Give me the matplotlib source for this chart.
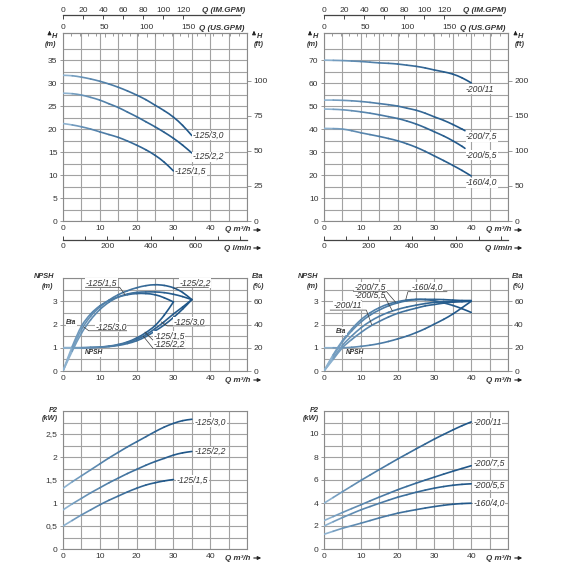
import numpy as np
import matplotlib
matplotlib.use('Agg')
import matplotlib.pyplot as plt
from matplotlib.path import Path
from matplotlib.patches import PathPatch, FancyArrowPatch
from matplotlib.colors import to_rgb

plt.rcParams['font.family'] = ['Liberation Sans Narrow', 'Liberation Sans', 'DejaVu Sans']

# ---------------- data ----------------
Q30 = [0, 2.5, 5, 7.5, 10, 12.5, 15, 17.5, 20, 22.5, 25, 27.5, 30]
Q35 = [0, 2.5, 5, 7.5, 10, 12.5, 15, 17.5, 20, 22.5, 25, 27.5, 30, 32.5, 35]
Q40 = [0, 2.5, 5, 7.5, 10, 12.5, 15, 17.5, 20, 22.5, 25, 27.5, 30, 32.5, 35, 37.5, 40]
Q38 = [0, 2.5, 5, 7.5, 10, 12.5, 15, 17.5, 20, 22.5, 25, 27.5, 30, 32.5, 35, 37.5, 38.3]

# Head (m) - series 125
H_125_30 = [31.7, 31.6, 31.3, 30.9, 30.4, 29.8, 29.1, 28.3, 27.4, 26.4, 25.2, 24.0, 22.6, 20.8, 18.6]
H_125_22 = [27.8, 27.7, 27.4, 26.9, 26.3, 25.5, 24.7, 23.7, 22.7, 21.6, 20.5, 19.3, 18.0, 16.5, 14.8]
H_125_15 = [21.2, 20.9, 20.5, 20.0, 19.4, 18.8, 18.2, 17.4, 16.5, 15.5, 14.3, 12.8, 10.9]
# Head (m) - series 160/200
H_200_11 = [70.0, 69.9, 69.8, 69.6, 69.4, 69.1, 68.8, 68.6, 68.3, 67.8, 67.3, 66.6, 65.7, 64.9, 63.9, 62.3, 60.1]
H_200_75 = [52.6, 52.6, 52.5, 52.3, 52.0, 51.6, 51.1, 50.6, 50.0, 49.1, 48.2, 46.9, 45.3, 43.8, 42.0, 40.0, 39.3]
H_200_55 = [48.7, 48.6, 48.4, 48.0, 47.5, 46.9, 46.2, 45.4, 44.6, 43.5, 42.2, 40.6, 38.8, 37.0, 34.9, 32.5, 31.6]
H_160_40 = [40.3, 40.2, 40.0, 39.3, 38.4, 37.6, 36.8, 35.9, 34.9, 33.6, 32.1, 30.3, 28.3, 26.3, 24.2, 22.0, 19.6]

# Efficiency (in NPSH-axis units: 1 m = 20 %) and NPSH (m) - series 125
ETA_125_15 = [0, 1.05, 1.92, 2.45, 2.8, 3.03, 3.18, 3.28, 3.33, 3.33, 3.28, 3.15, 2.97]
ETA_125_22 = [0, 0.95, 1.78, 2.35, 2.75, 3.05, 3.28, 3.45, 3.58, 3.67, 3.71, 3.68, 3.58, 3.38, 3.07]
ETA_125_30 = [0, 0.85, 1.62, 2.2, 2.64, 2.96, 3.18, 3.31, 3.38, 3.4, 3.4, 3.37, 3.3, 3.2, 3.07]
NPSH_125_15 = [1.0, 1.0, 1.0, 1.01, 1.03, 1.07, 1.14, 1.25, 1.42, 1.65, 1.95, 2.4, 2.97]
NPSH_125_22 = [1.0, 1.0, 1.0, 1.01, 1.02, 1.05, 1.1, 1.18, 1.3, 1.48, 1.72, 1.98, 2.3, 2.66, 3.07]
NPSH_125_30 = [1.0, 1.0, 1.0, 1.01, 1.03, 1.06, 1.12, 1.22, 1.36, 1.56, 1.82, 2.12, 2.45, 2.75, 3.07]
# Efficiency / NPSH - series 160/200
ETA_160_40 = [0, 0.7, 1.3, 1.8, 2.2, 2.5, 2.72, 2.88, 2.98, 3.05, 3.08, 3.07, 3.02, 2.93, 2.82, 2.68, 2.52]
ETA_200_75 = [0, 0.65, 1.25, 1.72, 2.1, 2.4, 2.62, 2.8, 2.93, 3.02, 3.07, 3.08, 3.08, 3.07, 3.05, 3.03, 3.02]
ETA_200_55 = [0, 0.55, 1.1, 1.5, 1.85, 2.13, 2.35, 2.52, 2.65, 2.75, 2.83, 2.9, 2.95, 2.98, 3.0, 3.02, 3.03]
ETA_200_11 = [0, 0.5, 1.0, 1.35, 1.65, 1.92, 2.13, 2.32, 2.48, 2.6, 2.7, 2.8, 2.86, 2.92, 2.96, 2.98, 3.0]
NPSH_200 = [1.0, 1.0, 1.0, 1.02, 1.06, 1.11, 1.18, 1.27, 1.38, 1.5, 1.65, 1.82, 2.02, 2.22, 2.45, 2.72, 3.0]

# Power P2 (kW)
P2_125_30 = [1.32, 1.46, 1.59, 1.72, 1.85, 1.98, 2.1, 2.22, 2.33, 2.44, 2.55, 2.65, 2.73, 2.79, 2.82]
P2_125_22 = [0.85, 0.98, 1.1, 1.22, 1.33, 1.44, 1.54, 1.64, 1.73, 1.82, 1.9, 1.97, 2.04, 2.09, 2.12]
P2_125_15 = [0.5, 0.62, 0.74, 0.85, 0.96, 1.06, 1.15, 1.24, 1.32, 1.39, 1.44, 1.48, 1.51]
P2_200_11 = [3.98, 4.48, 4.98, 5.47, 5.96, 6.43, 6.9, 7.36, 7.82, 8.26, 8.7, 9.13, 9.56, 9.96, 10.35, 10.72, 11.05]
P2_200_75 = [2.47, 2.82, 3.17, 3.51, 3.84, 4.18, 4.51, 4.83, 5.15, 5.44, 5.72, 5.99, 6.25, 6.51, 6.76, 7.0, 7.24]
P2_200_55 = [2.0, 2.37, 2.73, 3.07, 3.4, 3.69, 3.97, 4.24, 4.5, 4.72, 4.93, 5.12, 5.29, 5.43, 5.54, 5.62, 5.67]
P2_160_40 = [1.28, 1.54, 1.8, 2.02, 2.24, 2.47, 2.7, 2.91, 3.11, 3.27, 3.42, 3.56, 3.69, 3.8, 3.89, 3.95, 3.98]

# ---------------- figure ----------------
W = 570
fig = plt.figure(figsize=(5.7, 5.7), dpi=100)
fig.patch.set_facecolor('white')

GC = '#a2a2a2'
SC = '#8a8a8a'
TC = '#333333'
TS = 6.1
LS = 6.2
US = 5.3
C0 = np.array(to_rgb('#8db2d0'))
C1 = np.array(to_rgb('#1f5688'))


def make_ax(l, t, w, h):
    return fig.add_axes([l / W, 1 - (t + h) / W, w / W, h / W])


def ftxt(x, y, s, **kw):
    kw.setdefault('ha', 'center')
    kw.setdefault('va', 'center')
    kw.setdefault('fontsize', 5.8)
    kw.setdefault('color', TC)
    fig.text(x / W, 1 - y / W, s, **kw)


def farrow(x0, y0, x1, y1):
    fig.add_artist(FancyArrowPatch(
        (x0 / W, 1 - y0 / W), (x1 / W, 1 - y1 / W), transform=fig.transFigure,
        arrowstyle='-|>', mutation_scale=5, lw=0.8, color='#222222'))


def curve(ax, x, y, lw=1.2):
    """Draw the measured points joined by smooth Bezier segments, coloured light -> dark."""
    p = np.column_stack([np.asarray(x, float), np.asarray(y, float)])
    n = len(p)
    ext = np.vstack([p[0] - (p[1] - p[0]), p, p[-1] + (p[-1] - p[-2])])
    for i in range(n - 1):
        a, b, c, d = ext[i], ext[i + 1], ext[i + 2], ext[i + 3]
        c1 = b + (c - a) / 6.0
        c2 = c - (d - b) / 6.0
        t = (i / max(n - 2, 1)) ** 0.55
        col = tuple(C0 + (C1 - C0) * t)
        path = Path([b, c1, c2, c], [Path.MOVETO, Path.CURVE4, Path.CURVE4, Path.CURVE4])
        ax.add_patch(PathPatch(path, facecolor='none', edgecolor=col, lw=lw,
                               capstyle='round', joinstyle='round', zorder=3))


def base(ax, ymax, gstep, gtop, yticks, ylabels=None):
    ax.set_xlim(0, 50)
    ax.set_ylim(0, ymax)
    for xv in np.arange(0, 51, 5):
        ax.axvline(xv, color=GC, lw=0.8, zorder=0)
    for yv in np.arange(0, gtop + 1e-9, gstep):
        ax.axhline(yv, color=GC, lw=0.8, zorder=0)
    ax.set_xticks([0, 10, 20, 30, 40])
    ax.set_yticks(yticks)
    if ylabels is not None:
        ax.set_yticklabels(ylabels)
    ax.tick_params(axis='x', length=0, pad=3.0, labelsize=TS, colors=TC)
    ax.tick_params(axis='y', length=2.5, width=0.6, pad=1.5, labelsize=TS, colors=TC)
    ax.tick_params(axis='y', color=SC)
    for s in ax.spines.values():
        s.set_color(SC)
        s.set_linewidth(0.8)


def right_axis(ax, ymax, ticks):
    tw = ax.twinx()
    tw.set_ylim(0, ymax)
    tw.set_yticks(ticks)
    tw.tick_params(axis='y', length=3, width=0.6, pad=1.5, labelsize=TS, colors=TC, color=SC)
    for s in tw.spines.values():
        s.set_visible(False)
    return tw


def lab(ax, x, y, s, ha='left'):
    ax.text(x, y, s, ha=ha, va='center', fontsize=LS, style='italic', color=TC, zorder=4,
            bbox=dict(facecolor='white', edgecolor='none', pad=0.3))


def tag(ax, x, y, s, size=4.8):
    ax.text(x, y, s, ha='center', va='center', fontsize=size, style='italic', weight='bold', color=TC, zorder=4,
            bbox=dict(facecolor='white', edgecolor='none', pad=0.2))


def leader(ax, xs, ys):
    ax.plot(xs, ys, color='#3a3a3a', lw=0.5, zorder=4, solid_capstyle='butt')


def flow_axes(ax, dx):
    us = ax.secondary_xaxis('top', functions=(lambda q: q * 4.402868, lambda g: g / 4.402868))
    us.set_xticks([0, 50, 100, 150])
    us.set_xticks(np.arange(0, 221, 10), minor=True)
    us.tick_params(which='both', direction='in', pad=1.3, labelsize=TS, colors=TC, color=SC, width=0.6)
    us.tick_params(which='major', length=3)
    us.tick_params(which='minor', length=2)
    us.spines['top'].set_color(SC)
    im = ax.secondary_xaxis(1 + 18 / 188, functions=(lambda q: q * 3.666154, lambda g: g / 3.666154))
    im.set_xticks([0, 20, 40, 60, 80, 100, 120])
    im.tick_params(direction='in', length=3, width=0.7, pad=1.0, labelsize=TS, colors=TC, color='#444444')
    im.spines['top'].set_color('#444444')
    im.spines['top'].set_linewidth(0.9)
    im.spines['top'].set_bounds(0, 176)
    lm = ax.secondary_xaxis(-19 / 188, functions=(lambda q: q * 16.66667, lambda v: v / 16.66667))
    lm.set_xticks([0, 200, 400, 600])
    lm.set_xticks(np.arange(0, 801, 100), minor=True)
    lm.tick_params(which='both', direction='in', pad=1.8, labelsize=TS, colors=TC, color='#444444', width=0.7)
    lm.tick_params(which='major', length=3)
    lm.tick_params(which='minor', length=3)
    lm.spines['bottom'].set_color('#444444')
    lm.spines['bottom'].set_linewidth(0.9)
    ftxt(224 + dx, 10, 'Q (IM.GPM)', style='italic', weight='bold')
    ftxt(222 + dx, 28, 'Q (US.GPM)', style='italic', weight='bold')
    ftxt(238 + dx, 230, 'Q m³/h', style='italic', weight='bold')
    farrow(251 + dx, 230, 264 + dx, 230)
    ftxt(238 + dx, 248, 'Q l/min', style='italic', weight='bold')
    farrow(251 + dx, 248, 264 + dx, 248)


def qlabel(dx, y):
    ftxt(238 + dx, y, 'Q m³/h', style='italic', weight='bold')
    farrow(251 + dx, y, 264 + dx, y)


def unit_left(xa, ya0, ya1, sym, unit, xs, ys, xu, yu):
    farrow(xa, ya0, xa, ya1)
    ftxt(xs, ys, sym, style='italic', weight='bold', fontsize=US)
    ftxt(xu, yu, unit, style='italic', weight='bold', fontsize=US)


# ---------- top left: H curves 125 ----------
ax = make_ax(63, 33, 184, 188)
base(ax, 40.9, 2.5, 37.5, [0, 5, 10, 15, 20, 25, 30, 35])
curve(ax, Q35, H_125_30)
curve(ax, Q35, H_125_22)
curve(ax, Q30, H_125_15)
lab(ax, 35.3, 18.6, '-125/3,0')
lab(ax, 35.3, 14.0, '-125/2,2')
lab(ax, 30.4, 10.9, '-125/1,5')
right_axis(ax, 40.9 / 0.3048, [0, 25, 50, 75, 100])
flow_axes(ax, 0)
unit_left(49.5, 36, 28, 'H', '(m)', 55, 36, 50.5, 44)
unit_left(254, 36, 28, 'H', '(ft)', 259.5, 36, 259, 45)

# ---------- top right: H curves 160/200 ----------
ax = make_ax(324, 33, 184, 188)
base(ax, 81.8, 5, 75, [0, 10, 20, 30, 40, 50, 60, 70])
curve(ax, Q40, H_200_11)
curve(ax, Q38, H_200_75)
curve(ax, Q38, H_200_55)
curve(ax, Q40, H_160_40)
lab(ax, 38.6, 57.4, '-200/11')
lab(ax, 38.6, 36.7, '-200/7,5')
lab(ax, 38.6, 28.6, '-200/5,5')
lab(ax, 38.6, 16.7, '-160/4,0')
right_axis(ax, 81.8 / 0.3048, [0, 50, 100, 150, 200])
flow_axes(ax, 261)
unit_left(310, 36, 28, 'H', '(m)', 316, 36, 312, 44)
unit_left(515.5, 36, 28, 'H', '(ft)', 520.5, 36, 519.5, 45)

# ---------- middle left: NPSH / Eta 125 ----------
ax = make_ax(63, 278, 184, 93)
base(ax, 4.0, 0.5, 4.0, [0, 1, 2, 3])
curve(ax, Q30, ETA_125_15)
curve(ax, Q35, ETA_125_22)
curve(ax, Q35, ETA_125_30)
curve(ax, Q30, NPSH_125_15)
curve(ax, Q35, NPSH_125_22)
curve(ax, Q35, NPSH_125_30)
right_axis(ax, 80, [0, 20, 40, 60])
lab(ax, 6.2, 3.78, '-125/1,5')
leader(ax, [6.0, 15.4, 16.9], [3.6, 3.6, 3.27])
lab(ax, 31.6, 3.78, '-125/2,2')
leader(ax, [39.6, 31.2, 30.2], [3.6, 3.6, 3.54])
lab(ax, 8.8, 1.9, '-125/3,0')
leader(ax, [17.4, 7.0, 5.6], [1.73, 1.73, 1.9])
lab(ax, 30.0, 2.1, '-125/3,0')
leader(ax, [38.6, 28.3, 26.6], [1.94, 1.94, 2.12])
lab(ax, 24.6, 1.5, '-125/1,5')
leader(ax, [33.2, 24.5, 22.2], [1.32, 1.32, 1.68])
lab(ax, 24.6, 1.14, '-125/2,2')
leader(ax, [33.2, 24.5, 21.8], [0.97, 0.97, 1.5])
tag(ax, 2.3, 2.09, 'Eta')
tag(ax, 8.3, 0.78, 'NPSH')
qlabel(0, 380)
ftxt(44, 277, 'NPSH', style='italic', weight='bold', fontsize=US)
ftxt(47, 286, '(m)', style='italic', weight='bold', fontsize=US)
ftxt(258, 277, 'Eta', style='italic', weight='bold', fontsize=US)
ftxt(258, 286, '(%)', style='italic', weight='bold', fontsize=US)

# ---------- middle right: NPSH / Eta 160/200 ----------
ax = make_ax(324, 278, 184, 93)
base(ax, 4.0, 0.5, 4.0, [0, 1, 2, 3])
curve(ax, Q40, ETA_160_40)
curve(ax, Q40, ETA_200_75)
curve(ax, Q40, ETA_200_55)
curve(ax, Q40, ETA_200_11)
curve(ax, Q40, NPSH_200)
right_axis(ax, 80, [0, 20, 40, 60])
lab(ax, 8.4, 3.62, '-200/7,5')
lab(ax, 8.4, 3.25, '-200/5,5')
leader(ax, [7.9, 16.9, 19.5], [3.43, 3.43, 2.95])
leader(ax, [16.5, 18.6], [3.2, 2.58])
lab(ax, 23.8, 3.6, '-160/4,0')
leader(ax, [33.5, 22.8, 22.2], [3.41, 3.41, 3.06])
lab(ax, 2.6, 2.8, '-200/11')
leader(ax, [1.6, 11.5, 13.0], [2.62, 2.62, 1.98])
tag(ax, 4.7, 1.72, 'Eta')
tag(ax, 8.3, 0.78, 'NPSH')
qlabel(261, 380)
ftxt(308, 277, 'NPSH', style='italic', weight='bold', fontsize=US)
ftxt(312, 286, '(m)', style='italic', weight='bold', fontsize=US)
ftxt(518, 277, 'Eta', style='italic', weight='bold', fontsize=US)
ftxt(518, 286, '(%)', style='italic', weight='bold', fontsize=US)

# ---------- bottom left: P2 125 ----------
ax = make_ax(63, 411, 184, 138)
base(ax, 3.0, 0.25, 3.0, [0, 0.5, 1, 1.5, 2, 2.5], ['0', '0,5', '1', '1,5', '2', '2,5'])
curve(ax, Q35, P2_125_30)
curve(ax, Q35, P2_125_22)
curve(ax, Q30, P2_125_15)
lab(ax, 35.8, 2.76, '-125/3,0')
lab(ax, 35.8, 2.12, '-125/2,2')
lab(ax, 30.9, 1.5, '-125/1,5')
qlabel(0, 558)
ftxt(53.5, 410, 'P2', style='italic', weight='bold', fontsize=US)
ftxt(50, 419, '(kW)', style='italic', weight='bold', fontsize=US)

# ---------- bottom right: P2 160/200 ----------
ax = make_ax(324, 411, 184, 138)
base(ax, 12.0, 1, 12.0, [0, 2, 4, 6, 8, 10])
curve(ax, Q40, P2_200_11)
curve(ax, Q40, P2_200_75)
curve(ax, Q40, P2_200_55)
curve(ax, Q40, P2_160_40)
lab(ax, 40.6, 10.96, '-200/11')
lab(ax, 40.6, 7.47, '-200/7,5')
lab(ax, 40.6, 5.52, '-200/5,5')
lab(ax, 40.6, 3.98, '-160/4,0')
qlabel(261, 558)
ftxt(314, 410, 'P2', style='italic', weight='bold', fontsize=US)
ftxt(311, 419, '(kW)', style='italic', weight='bold', fontsize=US)

fig.savefig('out.png', dpi=100, facecolor='white')
